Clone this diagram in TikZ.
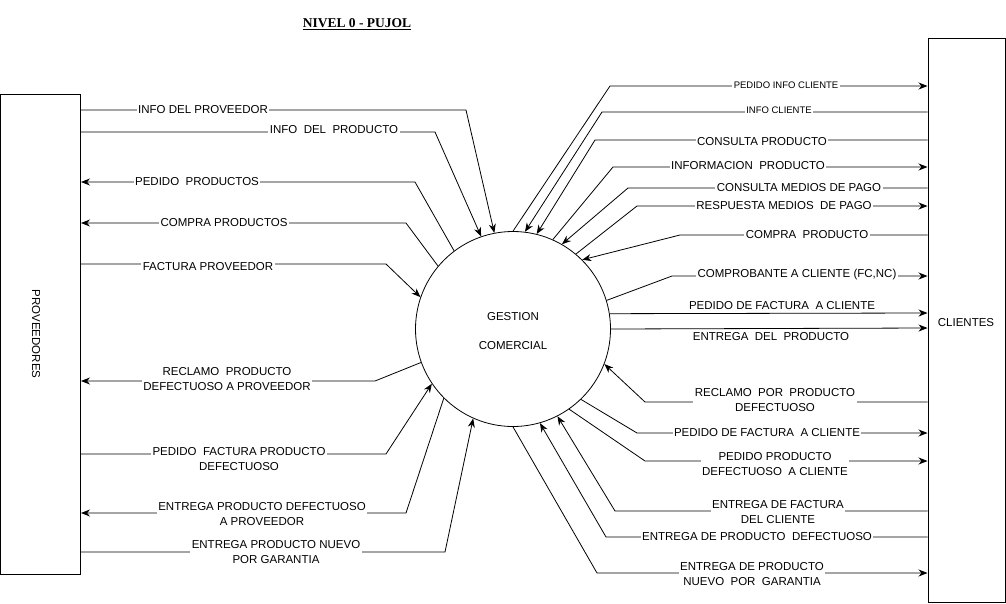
\documentclass[tikz,border=0pt]{standalone}
\usepackage{fontspec}
\setmainfont{Liberation Sans}
\newfontfamily\titlefont{Liberation Serif}
\usetikzlibrary{arrows.meta}
\begin{document}
\begin{tikzpicture}[x=1pt,y=-1pt,
  flow/.style={line width=0.8pt},
  arr/.style={flow,-{Stealth[length=9pt,width=7pt]}},
  lbl/.style={fill=white,inner sep=1.5pt,font=\fontsize{11.5}{14.5}\selectfont,align=center},
  slbl/.style={lbl,font=\fontsize{9.5}{11}\selectfont},
  plbl/.style={inner sep=1pt,font=\fontsize{11.5}{14.5}\selectfont,align=center},
  entity/.style={draw,line width=1pt,inner sep=0pt}
]
\useasboundingbox (0,0) rectangle (1006,603);

% title
\node[font=\titlefont\bfseries\fontsize{13.5}{15}\selectfont] (title) at (357,24) {\underline{NIVEL 0 - PUJOL}};

% entities
\node[entity,minimum width=80pt,minimum height=480pt] (prov) at (40.5,334) {};
\node[plbl,rotate=-90] (provtxt) at (36,334) {PROVEEDORES};
\node[entity,minimum width=77pt,minimum height=564pt] (cli) at (966.5,320) {};
\node[plbl] (clitxt) at (966,323) {CLIENTES};
\node[circle,draw,line width=0.8pt,minimum size=195pt,inner sep=0pt] (gc) at (513,329) {};
\node[plbl] (gc1) at (513,317) {GESTION};
\node[plbl] (gc2) at (513,346) {COMERCIAL};

% left flows
\draw[arr] (prov.east |- 0,110) -- (466,110) -- (gc.101.65);
\draw[arr] (prov.east |- 0,132) -- (435,132) -- (gc.109.3);
\draw[arr] (gc.127) -- (415,182) -- (prov.east |- 0,182);
\draw[arr] (gc.140.3) -- (406,223) -- (prov.east |- 0,223);
\draw[arr] (prov.east |- 0,264) -- (386,264) -- (gc.161.4);
\draw[arr] (gc.200.1) -- (375,381) -- (prov.east |- 0,381);
\draw[arr] (prov.east |- 0,454) -- (386,454) -- (gc.214.5);
\draw[arr] (gc.225.4) -- (406,513) -- (prov.east |- 0,513);
\draw[arr] (prov.east |- 0,552) -- (445,552) -- (gc.246.7);

\node[lbl] (l1) at (203,110) {INFO DEL PROVEEDOR};
\node[lbl] (l2) at (334,130) {INFO~ DEL~ PRODUCTO};
\node[lbl] (l3) at (197,182) {PEDIDO~ PRODUCTOS};
\node[lbl] (l4) at (224,223) {COMPRA PRODUCTOS};
\node[lbl] (l5) at (208,267) {FACTURA PROVEEDOR};
\node[lbl] (l6) at (227,379) {RECLAMO~ PRODUCTO\\DEFECTUOSO A PROVEEDOR};
\node[lbl] (l7) at (239,459) {PEDIDO~ FACTURA PRODUCTO\\DEFECTUOSO};
\node[lbl] (l8) at (262,514) {ENTREGA PRODUCTO DEFECTUOSO\\A PROVEEDOR};
\node[lbl] (l9) at (276,552) {ENTREGA PRODUCTO NUEVO\\POR GARANTIA};

% right flows
\draw[arr] (gc.90) -- (610,86) -- (cli.west |- 0,86);
\draw[arr] (cli.west |- 0,112) -- (602,112) -- (gc.83);
\draw[arr] (cli.west |- 0,140) -- (595,140) -- (gc.76.5);
\draw[arr] (gc.66.8) -- (613,167) -- (cli.west |- 0,167);
\draw[arr] (cli.west |- 0,188) -- (628,188) -- (gc.60.1);
\draw[arr] (gc.50.7) -- (637,206) -- (cli.west |- 0,206);
\draw[arr] (cli.west |- 0,235) -- (680,235) -- (gc.45);
\draw[arr] (gc.17.1) -- (672,276) -- (cli.west |- 0,276);
\draw[arr] (gc.9.5) -- (cli.west |- 0,313);
\draw[arr] (gc.0.6) -- (cli.west |- 0,328);
\draw[arr] (cli.west |- 0,402) -- (645,402) -- (gc.339.9);
\draw[arr] (gc.314.6) -- (637,433) -- (cli.west |- 0,433);
\draw[arr] (gc.305.4) -- (645,461) -- (cli.west |- 0,461);
\draw[arr] (cli.west |- 0,511) -- (615,511) -- (gc.297.8);
\draw[arr] (cli.west |- 0,537) -- (606,537) -- (gc.286.6);
\draw[arr] (gc.270) -- (597,573) -- (cli.west |- 0,573);

\node[slbl] (r1) at (786,85) {PEDIDO INFO CLIENTE};
\node[slbl] (r2) at (779,110) {INFO CLIENTE};
\node[lbl] (r3) at (762,142) {CONSULTA PRODUCTO};
\node[lbl] (r4) at (748,166) {INFORMACION~ PRODUCTO};
\node[lbl] (r5) at (799,188) {CONSULTA MEDIOS DE PAGO};
\node[lbl] (r6) at (784,206) {RESPUESTA MEDIOS~ DE PAGO};
\node[lbl] (r7) at (807,235) {COMPRA~ PRODUCTO};
\node[lbl] (r8) at (797,275) {COMPROBANTE A CLIENTE (FC,NC)};
\node[plbl] (r9) at (782,306) {PEDIDO DE FACTURA~ A CLIENTE};
\node[plbl] (r10) at (771,337) {ENTREGA~ DEL~ PRODUCTO};
\node[lbl] (r11) at (775,400) {RECLAMO~ POR~ PRODUCTO\\DEFECTUOSO};
\node[lbl] (r12) at (767,433) {PEDIDO DE FACTURA~ A CLIENTE};
\node[lbl] (r13) at (775,464) {PEDIDO PRODUCTO\\DEFECTUOSO~ A CLIENTE};
\node[lbl] (r14) at (778,512) {ENTREGA DE FACTURA\\DEL CLIENTE};
\node[lbl] (r15) at (757,537) {ENTREGA DE PRODUCTO~ DEFECTUOSO};
\node[lbl] (r16) at (752,574) {ENTREGA DE PRODUCTO\\NUEVO~ POR~ GARANTIA};
\end{tikzpicture}
\end{document}
